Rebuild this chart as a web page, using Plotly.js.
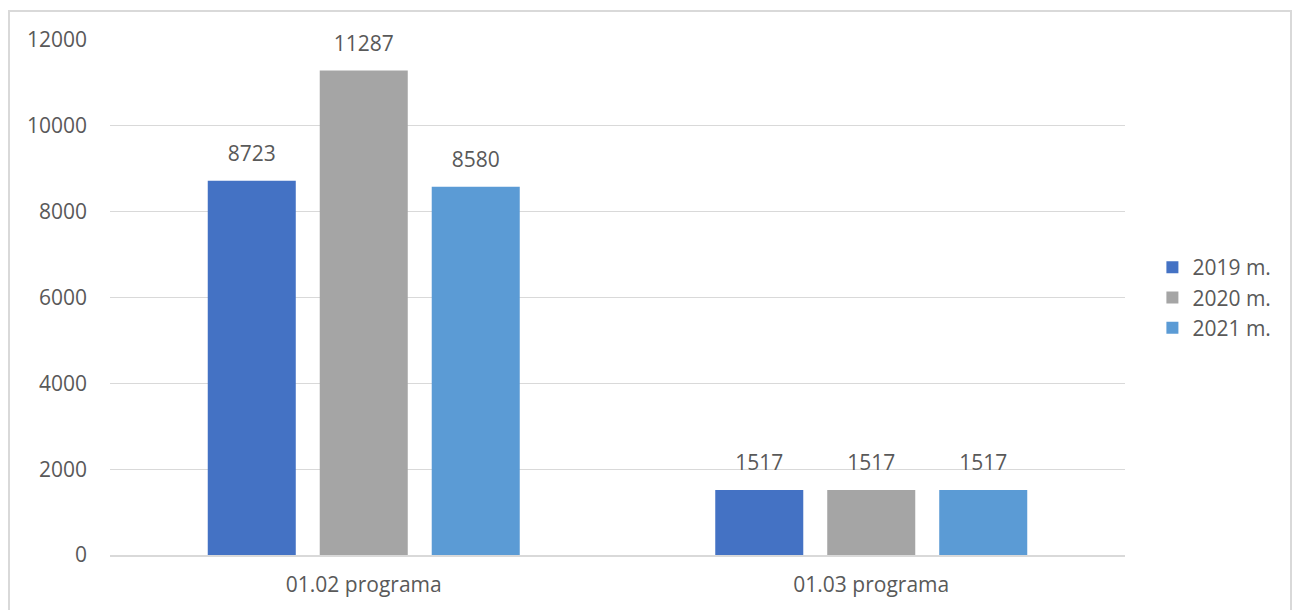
<!DOCTYPE html>
<html><head><meta charset="utf-8">
<script src="https://cdn.plot.ly/plotly-3.0.1.min.js"></script>
<style>
html,body{margin:0;padding:0;background:#fff;}
#wrap{position:relative;width:1300px;height:610px;overflow:hidden;}
#chart{width:1300px;height:610px;}
#frame{position:absolute;left:8px;top:10px;width:1284px;height:640px;border:2px solid #d9d9d9;pointer-events:none;box-sizing:border-box;}
</style>
</head><body>
<div id="wrap"><div id="chart"></div><div id="frame"></div></div>
<script>
const categories = ["01.02 programa", "01.03 programa"];
const seriesNames = ["2019 m.", "2020 m.", "2021 m."];
const values2019 = [8723, 1517];
const values2020 = [11287, 1517];
const values2021 = [8580, 1517];
const yTicks = [0, 2000, 4000, 6000, 8000, 10000, 12000];
const colors = ["#4472C4", "#A5A5A5", "#5B9BD5"];

const font = {family: "Open Sans, Liberation Sans, sans-serif", size: 21, color: "#595959"};
const allValues = [values2019, values2020, values2021];
const traces = [];
allValues.forEach((v, i) => {
  traces.push({
    type: "bar",
    name: seriesNames[i],
    x: categories,
    y: v,
    offsetgroup: String(i),
    marker: {color: colors[i]},
    hoverinfo: "x+y+name"
  });
});
allValues.forEach((v, i) => {
  traces.push({
    type: "scatter",
    mode: "markers+text",
    showlegend: false,
    x: categories,
    y: v,
    offsetgroup: String(i),
    marker: {color: "rgba(0,0,0,0)", size: 22},
    text: v.map(String),
    textposition: "top center",
    textfont: font,
    cliponaxis: false,
    hoverinfo: "skip"
  });
});

const layout = {
  width: 1300, height: 610,
  margin: {l: 110, r: 175, t: 40, b: 55},
  paper_bgcolor: "#fff", plot_bgcolor: "#fff",
  font: font,
  barmode: "group",
  bargap: 0.338,
  bargroupgap: 0.214,
  scattermode: "group",
  scattergap: 0.338,
  showlegend: true,
  legend: {x: 1.027, xanchor: "left", y: 0.5, yanchor: "middle", font: font, bgcolor: "rgba(0,0,0,0)"},
  xaxis: {
    type: "category",
    showline: true, linecolor: "#d9d9d9", linewidth: 2,
    showgrid: false, ticks: "", tickfont: font, ticklabelstandoff: 10
  },
  yaxis: {
    range: [0, 12000], tickvals: yTicks, ticktext: yTicks.map(String),
    showgrid: true, gridcolor: "#d9d9d9", gridwidth: 1,
    zeroline: false, showline: false, ticks: "", tickfont: font,
    ticklabelstandoff: 22
  }
};
Plotly.newPlot("chart", traces, layout, {displayModeBar: false, staticPlot: true});
</script>
</body></html>
